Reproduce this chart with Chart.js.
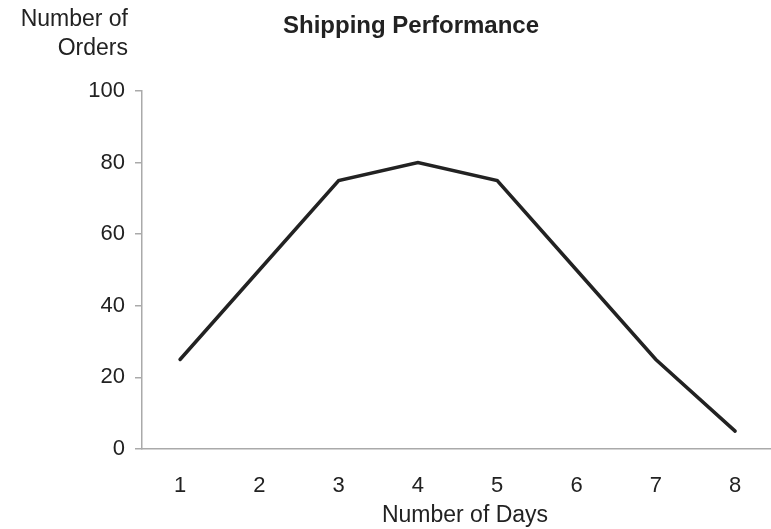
<!DOCTYPE html>
<html>
<head>
<meta charset="utf-8">
<script src="https://cdn.jsdelivr.net/npm/chart.js@4/dist/chart.umd.min.js"></script>
<style>
html,body{margin:0;padding:0;background:#fff;}
#wrap{width:771px;height:529px;position:relative;}
</style>
</head>
<body>
<div id="wrap"><canvas id="c" width="771" height="529"></canvas></div>
<script>
const chartTitle = "Shipping Performance";
const yTitleLines = ["Number of", "Orders"];
const xTitle = "Number of Days";
const days = [1, 2, 3, 4, 5, 6, 7, 8];
const orders = [25, 50, 75, 80, 75, 50, 25, 5];
const yTicks = [0, 20, 40, 60, 80, 100];

const FONT = "'Liberation Sans', Arial, sans-serif";
const textColor = "#222";
const axisColor = "#aaaaaa";

const textPlugin = {
  id: 'texts',
  afterDraw(chart) {
    const ctx = chart.ctx;
    ctx.save();
    ctx.fillStyle = textColor;
    ctx.textBaseline = 'middle';
    ctx.font = "bold 24px " + FONT;
    ctx.textAlign = 'center';
    ctx.fillText(chartTitle, 411, 26);
    ctx.font = "23px " + FONT;
    ctx.textAlign = 'right';
    ctx.fillText(yTitleLines[0], 128, 20);
    ctx.fillText(yTitleLines[1], 128, 49);
    ctx.textAlign = 'center';
    ctx.fillText(xTitle, 465, 516);
    ctx.restore();
  }
};

new Chart(document.getElementById('c'), {
  type: 'line',
  data: {
    datasets: [{
      data: days.map((d, i) => ({x: d, y: orders[i]})),
      borderColor: '#222',
      borderWidth: 3.5,
      borderCapStyle: 'round',
      pointRadius: 0,
      tension: 0,
      fill: false
    }]
  },
  options: {
    responsive: false,
    animation: false,
    events: [],
    layout: {padding: {top: 91, right: 1, left: 0, bottom: 0}},
    plugins: {legend: {display: false}, title: {display: false}, tooltip: {enabled: false}},
    scales: {
      x: {
        type: 'linear',
        min: 0.52,
        max: 8.44,
        afterBuildTicks(scale) { scale.ticks = days.map(v => ({value: v})); },
        afterFit(scale) { scale.height = 80; },
        grid: {display: false, drawTicks: false},
        border: {display: true, color: axisColor, width: 1.5},
        ticks: {color: textColor, font: {family: FONT, size: 22}, padding: 24, autoSkip: false, maxRotation: 0}
      },
      y: {
        min: 0,
        max: 100,
        afterBuildTicks(scale) { scale.ticks = yTicks.map(v => ({value: v})); },
        afterFit(scale) { scale.width = 142; },
        grid: {drawOnChartArea: false, drawTicks: true, tickLength: 7, color: axisColor, lineWidth: 1.5},
        border: {display: true, color: axisColor, width: 1.5},
        ticks: {color: textColor, font: {family: FONT, size: 22}, padding: 10}
      }
    }
  },
  plugins: [textPlugin]
});
</script>
</body>
</html>
